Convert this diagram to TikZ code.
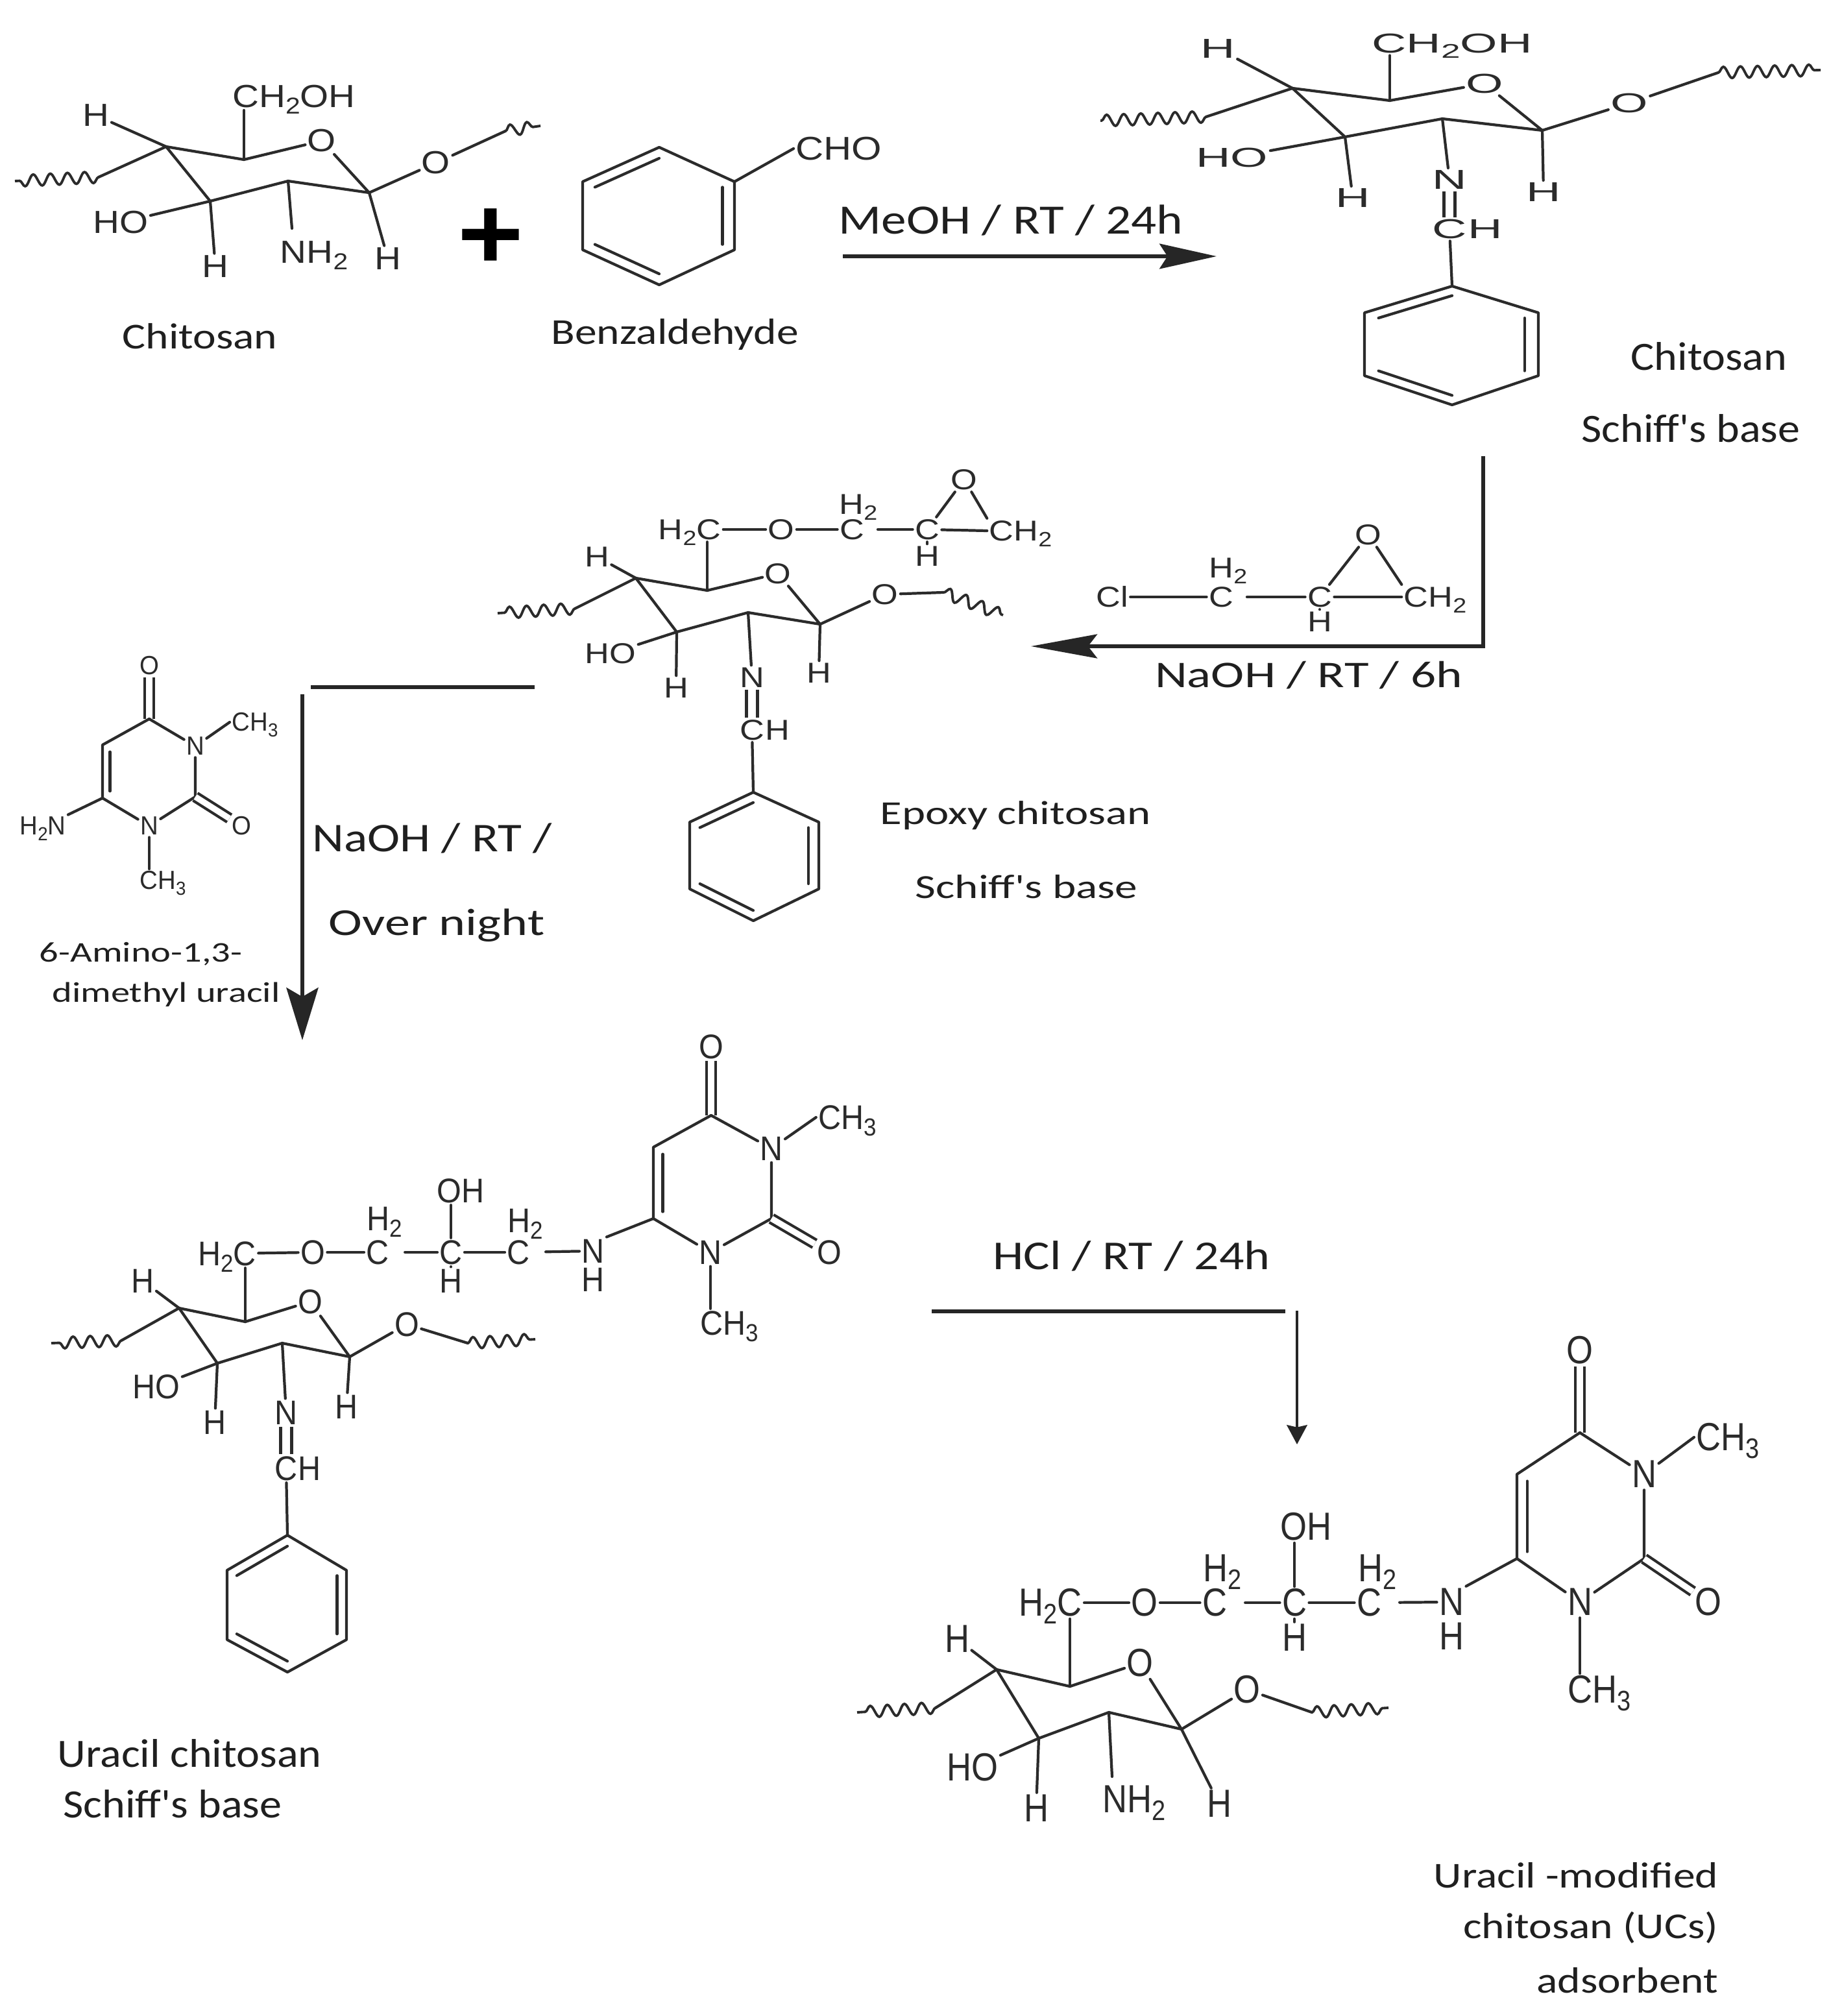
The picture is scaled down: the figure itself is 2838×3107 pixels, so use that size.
\documentclass[tikz,border=0pt]{standalone}
\usepackage{fontspec}
\usetikzlibrary{arrows.meta,calc,decorations.pathmorphing}
\newfontfamily\chA[FakeStretch=1.15]{Liberation Sans}
\newfontfamily\chB[FakeStretch=1.75]{Liberation Sans}
\newfontfamily\chC[FakeStretch=1.18]{Liberation Sans}
\newfontfamily\chD[FakeStretch=0.92]{Liberation Sans}
\newfontfamily\chE[FakeStretch=0.87]{Liberation Sans}
\newfontfamily\chU[FakeStretch=0.95]{Liberation Sans}
\newfontfamily\plusfont[FakeStretch=1.1]{Liberation Sans Bold}
\newfontfamily\lblA[FakeStretch=1.1]{Carlito}
\newfontfamily\lblB[FakeStretch=1.2]{Carlito}
\newfontfamily\lblC[FakeStretch=1.33]{Carlito}
\definecolor{ink}{HTML}{2B2B2B}
\newcommand\ssub[1]{\raisebox{-.2em}[0pt][0pt]{\scalebox{.72}{#1}}}
\tikzset{
  atom/.style={inner sep=1pt,outer sep=0pt,text=ink},
  aA/.style={atom,font=\chA\fontsize{14}{16}\selectfont},
  aB/.style={atom,font=\chB\fontsize{12}{14}\selectfont},
  aC/.style={atom,font=\chC\fontsize{12.6}{14}\selectfont},
  aCho/.style={atom,font=\chC\fontsize{14.4}{16}\selectfont},
  aD/.style={atom,font=\chD\fontsize{15}{17}\selectfont},
  aE/.style={atom,font=\chE\fontsize{17.2}{19}\selectfont},
  aU/.style={atom,font=\chU\fontsize{11.5}{13}\selectfont},
  tailH/.style={inner xsep=0pt,xshift=-.6pt},
  bond/.style={draw=ink,line width=1.2pt,line join=round,line cap=round},
  dbond/.style={bond,double,double distance=2.6pt,line cap=butt},
  nbond/.style={bond,double,double distance=3.6pt,line cap=butt},
  wavy/.style={draw=ink,line width=1.1pt,decorate,decoration={snake,segment length=7.5pt,amplitude=2.5pt}},
  conn/.style={draw=black!85,line width=1.5pt},
  lbl/.style={inner sep=0pt,text=black!88},
  lA/.style={lbl,font=\lblA\fontsize{#1}{#1}\selectfont},
  lB/.style={lbl,font=\lblB\fontsize{#1}{#1}\selectfont},
  lC/.style={lbl,font=\lblC\fontsize{#1}{#1}\selectfont},
}
% benzene ring: name, xl, xc, xr, ytop, yupper, ylower, ybottom
\newcommand\benzring[8]{%
  \coordinate (#1t) at (#3,#5);
  \coordinate (#1ur) at (#4,#6);
  \coordinate (#1lr) at (#4,#7);
  \coordinate (#1b) at (#3,#8);
  \coordinate (#1ll) at (#2,#7);
  \coordinate (#1ul) at (#2,#6);
  \coordinate (#1m) at ($(#1t)!.5!(#1b)$);
  \draw[bond] (#1t)--(#1ur)--(#1lr)--(#1b)--(#1ll)--(#1ul)--cycle;
  \draw[bond] ($(#1t)!.16!(#1m)$)--($(#1ul)!.16!(#1m)$);
  \draw[bond] ($(#1ur)!.16!(#1m)$)--($(#1lr)!.16!(#1m)$);
  \draw[bond] ($(#1b)!.16!(#1m)$)--($(#1ll)!.16!(#1m)$);
}
% sugar ring, from its named vertices
\newcommand\ringbonds[1]{%
  \draw[bond] (#1a)--(#1b)--(#1o);
  \draw[bond] (#1o)--(#1c)--(#1d)--(#1e)--(#1a);
}
% uracil ring, from its named atoms
\newcommand\uracilbonds[1]{%
  \draw[dbond] (#1oa)--(#1f);
  \draw[bond] (#1f)--(#1g)--(#1h)--(#1na);
  \draw[bond] (#1na)--(#1k)--(#1nc);
  \draw[bond] (#1nc)--(#1f);
  \draw[bond,shorten <=3pt,shorten >=3pt] ($(#1g)!.08!(#1nc)$)--($(#1h)!.08!(#1k)$);
  \draw[dbond] (#1k)--(#1ob);
  \draw[bond] (#1nc)--(#1mc.west);
  \draw[bond] (#1na)--(#1na |- #1ma.north);
}
\begin{document}
\begin{tikzpicture}[x=0.01cm,y=-0.01cm]
\useasboundingbox (0,0) rectangle (2838,3107);
\fill[white] (0,0) rectangle (2838,3107);

% ---------- Chitosan
\coordinate (pa) at (256,226);
\coordinate (pb) at (376,246);
\node[aA] (po) at (496,217) {O};
\coordinate (pc) at (569,297);
\coordinate (pd) at (444,279);
\coordinate (pe) at (324,310);
\ringbonds{p}
\node[aA] (phtl) at (148,178) {H};
\node[aA] (pch) at (453,149) {CH\ssub{2}OH};
\node[aA] (pox) at (672,251) {O};
\node[aA] (pho) at (186,343) {HO};
\node[aA] (phb) at (332,411) {H};
\node[aA] (pnh) at (484,389) {NH\ssub{2}};
\node[aA] (phr) at (598,399) {H};
\coordinate (pw1) at (152,273);
\coordinate (pw2) at (23,279);
\coordinate (pw3) at (779,202);
\coordinate (pw4) at (833,194);
\coordinate (pn) at (450,352);
\draw[bond] (pa)--(phtl);
\draw[bond] (pa)--(pw1);
\draw[wavy] (pw1)--(pw2);
\draw[bond] (pb)--(pb |- pch.south);
\draw[bond] (pc)--(pox);
\draw[bond] (pox)--(pw3);
\draw[wavy] (pw3)--(pw4);
\draw[bond] (pe)--(pho);
\draw[bond] (pe)--(phb);
\draw[bond] (pd)--(pn);
\draw[bond] (pc)--(phr);
\node[lB=16] (lchit) at (308,518) {Chitosan};

\node[inner sep=0pt,text=black,font=\plusfont\fontsize{45}{46}\selectfont] (plus) at (756,368) {+};

% ---------- Benzaldehyde
\benzring{q}{898}{1016}{1132}{227}{280}{385}{439}
\node[aCho] (qcho) at (1293,229) {CHO};
\draw[bond] (qur)--(qcho.west);
\node[lB=16] (lbenz) at (1040,516) {Benzaldehyde};

% ---------- Arrow 1
\coordinate (ar1a) at (1299,395);
\coordinate (ar1b) at (1875,395);
\draw[conn,-{Stealth[length=25pt,width=11pt,inset=3.5pt]}] (ar1a)--(ar1b);
\node[lB=18.3] (lmeoh) at (1558,340) {MeOH / RT / 24h};

% ---------- Chitosan Schiff's base
\coordinate (ra) at (1992,136);
\coordinate (rb) at (2142,155);
\node[aB] (ro) at (2288,129) {O};
\coordinate (rc) at (2377,201);
\coordinate (rd) at (2223,183);
\coordinate (re) at (2073,211);
\ringbonds{r}
\node[aB] (rhtl) at (1877,75) {H};
\node[aB] (rch) at (2238,67) {CH\ssub{2}OH};
\node[aB] (rox) at (2511,159) {O};
\node[aB] (rho) at (1899,243) {HO};
\node[aB] (rhb) at (2085,305) {H};
\node[aB] (rn) at (2234,277) {N};
\node[aB] (rhr) at (2379,296) {H};
\node[aB] (rcc) at (2234,353) {C};
\node[aB,tailH,anchor=west] (rchh) at (rcc.east) {H};
\coordinate (rw1) at (1859,180);
\coordinate (rw2) at (1696,186);
\coordinate (rw3) at (2648,112);
\coordinate (rw4) at (2806,108);
\draw[bond] (ra)--(rhtl);
\draw[bond] (ra)--(rw1);
\draw[wavy] (rw1)--(rw2);
\draw[bond] (rb)--(rb |- rch.south);
\draw[bond] (rc)--(rox);
\draw[bond] (rox)--(rw3);
\draw[wavy] (rw3)--(rw4);
\draw[bond] (re)--(rho);
\draw[bond] (re)--(rhb);
\draw[bond] (rd)--(rn);
\draw[bond] (rc)--(rhr);
\draw[nbond] (rn)--(rcc);
\benzring{s}{2103}{2238}{2371}{441}{482}{579}{624}
\draw[bond] (rcc)--(st);
\node[lA=17.6] (lch2) at (2634,549) {Chitosan};
\node[lA=17.6] (lsb2) at (2606,660) {Schiff's base};

% ---------- Arrow 2
\coordinate (ar2a) at (2286,703);
\coordinate (ar2b) at (2286,996);
\coordinate (ar2c) at (1589,996);
\draw[conn,-{Stealth[length=29pt,width=10.5pt,inset=4pt]}] (ar2a)--(ar2b)--(ar2c);
\node[lC=16.5] (lnaoh) at (2017,1041) {NaOH / RT / 6h};

% ---------- Epichlorohydrin
\node[aC] (ecl) at (1714,920) {Cl};
\node[aC] (ec1) at (1882,920) {C};
\node[aC] (eh2) at (1893,875) {H\ssub{2}};
\node[aC] (ec2) at (2034,920) {C};
\node[aC] (eh) at (2034,958) {H};
\node[aC] (ech) at (2212,920) {CH\ssub{2}};
\node[aC] (eo) at (2109,824) {O};
\draw[bond] (ecl)--(ec1);
\draw[bond,shorten <=5pt] (ec1)--(ec2);
\draw[bond] (ec2)--(ech.west);
\draw[bond] (ec2)--(eh);
\draw[bond] (eo)--(ec2);
\draw[bond] (eo)--(ech.north west);

% ---------- Epoxy chitosan Schiff's base
\node[aC] (th2c) at (1063,816) {H\ssub{2}C};
\node[aC] (toc) at (1204,816) {O};
\node[aC] (tc1) at (1313,816) {C};
\node[aC] (th2) at (1323,777) {H\ssub{2}};
\node[aC] (tc2) at (1429,816) {C};
\node[aC] (th) at (1429,857) {H};
\node[aC] (tch) at (1573,818) {CH\ssub{2}};
\node[aC] (toe) at (1486,739) {O};
\draw[bond] (th2c)--(toc);
\draw[bond] (toc)--(tc1);
\draw[bond,shorten <=5pt] (tc1)--(tc2);
\draw[bond] (tc2)--(tch.west);
\draw[bond] (tc2)--(th);
\draw[bond] (toe)--(tc2);
\draw[bond] (toe)--(tch.north west);
\coordinate (ta) at (980,891);
\coordinate (tb) at (1090,910);
\node[aC] (to) at (1199,884) {O};
\coordinate (tcc) at (1264,962);
\coordinate (td) at (1153,944);
\coordinate (te) at (1043,974);
\draw[bond] (ta)--(tb)--(to);
\draw[bond] (to)--(tcc)--(td)--(te)--(ta);
\node[aC] (thtl) at (920,858) {H};
\node[aC] (tox) at (1364,916) {O};
\node[aC] (tho) at (941,1007) {HO};
\node[aC] (thb) at (1042,1060) {H};
\node[aC] (tn) at (1159,1044) {N};
\node[aC] (thr) at (1262,1037) {H};
\node[aC] (tcn) at (1159,1125) {C};
\node[aC,tailH,anchor=west] (tchh) at (tcn.east) {H};
\coordinate (tw1) at (886,938);
\coordinate (tw2) at (767,945);
\coordinate (tw3) at (1454,913);
\coordinate (tw4) at (1546,948);
\draw[bond] (ta)--(thtl);
\draw[bond] (ta)--(tw1);
\draw[wavy] (tw1)--(tw2);
\draw[bond] (tb)--(tb |- th2c.south);
\draw[bond] (tcc)--(tox);
\draw[bond] (tox)--(tw3);
\draw[wavy] (tw3)--(tw4);
\draw[bond] (te)--(tho);
\draw[bond] (te)--(thb);
\draw[bond] (td)--(tn);
\draw[bond] (tcc)--(thr);
\draw[nbond] (tn)--(tcn);
\benzring{v}{1063}{1161}{1262}{1221}{1267}{1370}{1419}
\draw[bond] (tcn)--(vt);
\node[lC=14.7] (lep) at (1565,1257) {Epoxy chitosan};
\node[lC=14.8] (lsb3) at (1582,1367) {Schiff's base};

% ---------- Arrow 3
\coordinate (ar3a) at (479,1059);
\coordinate (ar3b) at (824,1059);
\coordinate (ar3c) at (466,1070);
\coordinate (ar3d) at (466,1603);
\draw[conn] (ar3a)--(ar3b);
\draw[conn,-{Stealth[length=23pt,width=14pt,inset=4pt]}] (ar3c)--(ar3d);
\node[lB=17.9] (lnaoh2) at (666,1292) {NaOH / RT /};
\node[lC=16.7] (lover) at (673,1426) {Over night};

% ---------- 6-Amino-1,3-dimethyl uracil
\node[aU] (uoa) at (230,1026) {O};
\coordinate (uf) at (230,1108);
\coordinate (ug) at (158,1148);
\coordinate (uh) at (158,1230);
\node[aU] (una) at (230,1273) {N};
\coordinate (uk) at (301,1228);
\node[aU] (unc) at (301,1150) {N};
\node[aU] (umc) at (393,1113) {CH\ssub{3}};
\node[aU] (uob) at (372,1273) {O};
\node[aU] (uam) at (66,1273) {H\ssub{2}N};
\node[aU] (uma) at (251,1357) {CH\ssub{3}};
\uracilbonds{u}
\draw[bond] (uh)--(uam.north east);
\node[lC=12.5] (lam1) at (217,1470) {6-Amino-1,3-};
\node[lC=12.5] (lam2) at (256,1533) {dimethyl uracil};

% ---------- Uracil chitosan Schiff's base
\node[aD] (woa) at (1096,1613) {O};
\coordinate (wf) at (1096,1719);
\coordinate (wg) at (1007,1768);
\coordinate (wh) at (1007,1878);
\node[aD] (wna) at (1095,1930) {N};
\coordinate (wk) at (1189,1878);
\node[aD] (wnc) at (1189,1770) {N};
\node[aD] (wmc) at (1306,1722) {CH\ssub{3}};
\node[aD] (wob) at (1278,1930) {O};
\node[aD] (wma) at (1124,2039) {CH\ssub{3}};
\uracilbonds{w}
\node[aD] (wnh) at (914,1928) {N};
\node[aD] (wnhh) at (914,1972) {H};
\draw[bond] (wh)--(wnh.north east);
\node[aD] (wc3) at (799,1930) {C};
\node[aD] (wh3) at (810,1881) {H\ssub{2}};
\node[aD] (wc2) at (695,1930) {C};
\node[aD] (whc) at (695,1974) {H};
\node[aD] (woh) at (710,1835) {OH};
\node[aD] (wc1) at (582,1930) {C};
\node[aD] (wh1) at (593,1878) {H\ssub{2}};
\node[aD] (woc) at (482,1930) {O};
\node[aD] (wh2c) at (350,1932) {H\ssub{2}C};
\draw[bond] (wh2c)--(woc);
\draw[bond] (woc)--(wc1);
\draw[bond,shorten <=6pt] (wc1)--(wc2);
\draw[bond] (wc2)--(wc3);
\draw[bond,shorten <=6pt] (wc3)--(wnh);
\draw[bond] (wc2)--(whc);
\draw[bond] (wc2)--(wc2 |- woh.south);
\coordinate (xa) at (276,2016);
\coordinate (xb) at (378,2037);
\node[aD] (xo) at (478,2006) {O};
\coordinate (xc) at (539,2091);
\coordinate (xd) at (435,2070);
\coordinate (xe) at (335,2101);
\ringbonds{x}
\node[aD] (xhtl) at (220,1974) {H};
\node[aD] (xox) at (627,2041) {O};
\node[aD] (xho) at (241,2137) {HO};
\node[aD] (xhb) at (331,2192) {H};
\node[aD] (xn) at (441,2177) {N};
\node[aD] (xhr) at (534,2168) {H};
\node[aD] (xcn) at (441,2263) {C};
\node[aD,tailH,anchor=west] (xchh) at (xcn.east) {H};
\coordinate (xw1) at (187,2066);
\coordinate (xw2) at (79,2070);
\coordinate (xw3) at (721,2070);
\coordinate (xw4) at (825,2064);
\draw[bond] (xa)--(xhtl);
\draw[bond] (xa)--(xw1);
\draw[wavy] (xw1)--(xw2);
\draw[bond] (xb)--(xb |- wh2c.south);
\draw[bond] (xc)--(xox);
\draw[bond] (xox)--(xw3);
\draw[wavy] (xw3)--(xw4);
\draw[bond] (xe)--(xho);
\draw[bond] (xe)--(xhb);
\draw[bond] (xd)--(xn);
\draw[bond] (xc)--(xhr);
\draw[nbond] (xn)--(xcn);
\benzring{y}{350}{443}{534}{2366}{2420}{2527}{2577}
\draw[bond] (xcn)--(yt);
\node[lA=17.6] (luc1) at (292,2702) {Uracil chitosan};
\node[lA=17.6] (luc2) at (266,2780) {Schiff's base};

% ---------- Arrow 4
\coordinate (ar4a) at (1436,2021);
\coordinate (ar4b) at (1981,2021);
\coordinate (ar4c) at (1999,2020);
\coordinate (ar4d) at (1999,2226);
\draw[conn] (ar4a)--(ar4b);
\draw[draw=black!85,line width=.9pt,-{Stealth[length=8.5pt,width=9pt,inset=1pt]}] (ar4c)--(ar4d);
\node[lB=18] (lhcl) at (1744,1936) {HCl / RT / 24h};

% ---------- Uracil-modified chitosan
\node[aE] (zoa) at (2435,2081) {O};
\coordinate (zf) at (2435,2208);
\coordinate (zg) at (2338,2272);
\coordinate (zh) at (2338,2402);
\node[aE] (zna) at (2435,2469) {N};
\coordinate (zk) at (2534,2402);
\node[aE] (znc) at (2534,2272) {N};
\node[aE] (zmc) at (2663,2215) {CH\ssub{3}};
\node[aE] (zob) at (2633,2469) {O};
\node[aE] (zma) at (2465,2604) {CH\ssub{3}};
\uracilbonds{z}
\node[aE] (znh) at (2237,2469) {N};
\node[aE] (znhh) at (2237,2522) {H};
\draw[bond] (zh)--(znh.north east);
\node[aE] (zc3) at (2110,2470) {C};
\node[aE] (zh3) at (2123,2417) {H\ssub{2}};
\node[aE] (zc2) at (1995,2470) {C};
\node[aE] (zhc) at (1995,2524) {H};
\node[aE] (zoh) at (2013,2353) {OH};
\node[aE] (zc1) at (1872,2470) {C};
\node[aE] (zh1) at (1884,2417) {H\ssub{2}};
\node[aE] (zoc) at (1764,2470) {O};
\node[aE] (zh2c) at (1619,2470) {H\ssub{2}C};
\draw[bond] (zh2c)--(zoc);
\draw[bond] (zoc)--(zc1);
\draw[bond,shorten <=7pt] (zc1)--(zc2);
\draw[bond] (zc2)--(zc3);
\draw[bond,shorten <=7pt] (zc3)--(znh);
\draw[bond] (zc2)--(zhc);
\draw[bond] (zc2)--(zc2 |- zoh.south);
\coordinate (ca) at (1536,2573);
\coordinate (cb) at (1649,2599);
\node[aE] (co) at (1757,2563) {O};
\coordinate (cc) at (1821,2665);
\coordinate (cd) at (1709,2639);
\coordinate (ce) at (1601,2679);
\ringbonds{c}
\node[aE] (chtl) at (1475,2526) {H};
\node[aE] (cox) at (1922,2604) {O};
\node[aE] (cho) at (1499,2724) {HO};
\node[aE] (chb) at (1597,2787) {H};
\node[aE] (cnh) at (1748,2773) {NH\ssub{2}};
\node[aE] (chr) at (1879,2780) {H};
\coordinate (cw1) at (1442,2632);
\coordinate (cw2) at (1321,2639);
\coordinate (cw3) at (2022,2639);
\coordinate (cw4) at (2140,2632);
\coordinate (cn) at (1714,2738);
\draw[bond] (ca)--(chtl);
\draw[bond] (ca)--(cw1);
\draw[wavy] (cw1)--(cw2);
\draw[bond] (cb)--(cb |- zh2c.south);
\draw[bond] (cc)--(cox);
\draw[bond] (cox)--(cw3);
\draw[wavy] (cw3)--(cw4);
\draw[bond] (ce)--(cho);
\draw[bond] (ce)--(chb);
\draw[bond] (cd)--(cn);
\draw[bond] (cc)--(chr);
\node[lB=16,anchor=east] (lum1) at (2649,2890) {Uracil -modified};
\node[lB=16,anchor=east] (lum2) at (2649,2971) {chitosan (UCs)};
\node[lB=16,anchor=east] (lum3) at (2649,3052) {adsorbent};
\end{tikzpicture}
\end{document}
